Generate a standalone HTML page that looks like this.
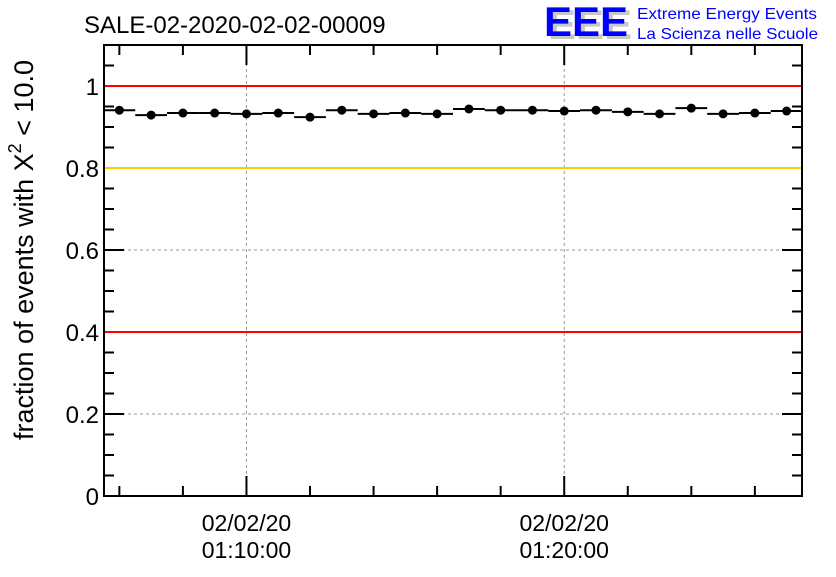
<!DOCTYPE html>
<html><head><meta charset="utf-8"><style>
body{margin:0;background:#fff;}
svg text{font-family:"Liberation Sans",sans-serif;}
</style></head><body>
<svg id="c" width="836" height="572" xmlns="http://www.w3.org/2000/svg">
<rect width="836" height="572" fill="#fff"/>
<text x="84" y="33" font-size="24">SALE-02-2020-02-02-00009</text>
<g>
<text x="548" y="39" font-size="42" font-weight="bold" fill="#c8c8c8" textLength="84" lengthAdjust="spacingAndGlyphs">EEE</text>
<text x="544" y="36" font-size="42" font-weight="bold" fill="#0000ff" textLength="84" lengthAdjust="spacingAndGlyphs">EEE</text>
<text x="637" y="19" font-size="16" fill="#0000ff" textLength="180" lengthAdjust="spacingAndGlyphs">Extreme Energy Events</text>
<text x="637" y="39" font-size="16" fill="#0000ff" textLength="181" lengthAdjust="spacingAndGlyphs">La Scienza nelle Scuole</text>
</g>
<text transform="translate(33,250) rotate(-90)" text-anchor="middle" font-size="27">fraction of events with X<tspan dy="-12" font-size="18">2</tspan><tspan dy="12"> &lt; 10.0</tspan></text>
<g id="plot"></g>
</svg>
<script>
const times=["01:06","01:07","01:08","01:09","01:10","01:11","01:12","01:13","01:14","01:15","01:16","01:17","01:18","01:19","01:20","01:21","01:22","01:23","01:24","01:25","01:26","01:27"];
const values=[0.941,0.929,0.934,0.934,0.932,0.934,0.924,0.941,0.932,0.934,0.932,0.944,0.941,0.941,0.939,0.941,0.937,0.932,0.946,0.932,0.934,0.939];
const yTicks=[0,0.2,0.4,0.6,0.8,1];
const yTickLabels=["0","0.2","0.4","0.6","0.8","1"];
const xLabelTimes=["01:10:00","01:20:00"];
const xLabelDates=["02/02/20","02/02/20"];
const refLines=[{v:1,c:"#ff0000"},{v:0.8,c:"#ffcc00"},{v:0.4,c:"#ff0000"}];

const L=104,R=802,T=45,B=496,Y0=0,Y1=1.1;
const tMin=3931,tMax=5249;
function sec(s){const p=s.split(":").map(Number);return p[0]*3600+p[1]*60+(p[2]||0);}
function x(t){return L+(t-tMin)/(tMax-tMin)*(R-L);}
function y(v){return B-(v-Y0)/(Y1-Y0)*(B-T);}
const ns="http://www.w3.org/2000/svg";
const g=document.getElementById("plot");
function el(tag,a){const e=document.createElementNS(ns,tag);for(const k in a)e.setAttribute(k,a[k]);g.appendChild(e);return e;}

yTicks.forEach(v=>{if(v>0&&v<1){const e=el("line",{x1:L,x2:R,y1:y(v),y2:y(v),stroke:"#999","stroke-dasharray":"3,3","stroke-width":1});

}});
xLabelTimes.forEach(s=>{const e=el("line",{x1:x(sec(s)),x2:x(sec(s)),y1:T,y2:B,stroke:"#999","stroke-dasharray":"3,3","stroke-width":1});

});
for(let i=0;i<=22;i++){const v=i*0.05;const maj=i%4===0;const len=maj?20:10;
[[L,L+len],[R,R-len]].forEach(p=>{const e=el("line",{x1:p[0],x2:p[1],y1:y(v),y2:y(v),stroke:"#000","stroke-width":2});

});}
refLines.forEach(r=>{const e=el("line",{x1:L+1,x2:R-1,y1:y(r.v),y2:y(r.v),stroke:r.c,"stroke-width":2});

});
yTicks.forEach((v,i)=>{const e=el("text",{x:L-5,y:y(v)+9,"text-anchor":"end","font-size":24});e.textContent=yTickLabels[i];

});
for(let t=sec("01:06");t<=tMax;t+=120){const maj=(t%600)===0;const len=maj?20:10;
[[B,B-len],[T,T+len]].forEach(p=>{const e=el("line",{x1:x(t),x2:x(t),y1:p[0],y2:p[1],stroke:"#000","stroke-width":2});

});}
xLabelTimes.forEach((s,i)=>{const cx=x(sec(s));
const a=el("text",{x:cx,y:531,"text-anchor":"middle","font-size":23});a.textContent=xLabelDates[i];


const b=el("text",{x:cx,y:558,"text-anchor":"middle","font-size":23});b.textContent=s;

});
times.forEach((s,i)=>{const t=sec(s);const yy=y(values[i]);
const e=el("line",{x1:x(t-30),x2:x(t+30),y1:yy,y2:yy,stroke:"#000","stroke-width":2});


const c=el("circle",{cx:x(t),cy:yy,r:4.5,fill:"#000"});

});
const f=el("rect",{x:L,y:T,width:R-L,height:B-T,fill:"none",stroke:"#000","stroke-width":2});


</script>
</body></html>
